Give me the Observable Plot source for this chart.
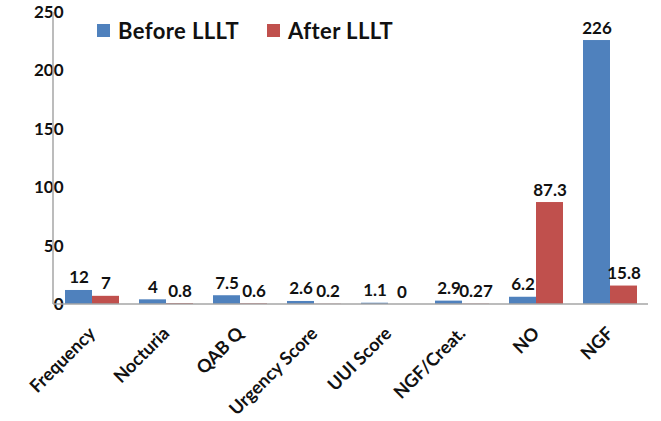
<!DOCTYPE html>
<html>
<head>
<meta charset="utf-8">
<script src="https://cdn.jsdelivr.net/npm/d3@7"></script>
<script src="https://cdn.jsdelivr.net/npm/@observablehq/plot@0.6"></script>
<style>
  html, body { margin: 0; padding: 0; background: #fff; }
  #wrap { position: relative; width: 661px; height: 421px; font-family: Lato, "Open Sans", sans-serif; }
  .legend { position: absolute; top: 17px; left: 97px; display: flex; align-items: center; font-weight: 700; font-size: 22px; letter-spacing: 0.4px; color: #111; }
  .legend .sw { width: 13px; height: 13px; display: inline-block; margin-right: 8px; }
  .legend .item { display: flex; align-items: center; margin-right: 28px; }
</style>
</head>
<body>
<div id="wrap">
  <div id="chart"></div>
  <div class="legend">
    <span class="item"><span class="sw" style="background:#4F81BD"></span>Before LLLT</span>
    <span class="item"><span class="sw" style="background:#C0504D"></span>After LLLT</span>
  </div>
</div>
<script>
const categories = ["Frequency", "Nocturia", "QAB Q", "Urgency Score", "UUI Score", "NGF/Creat.", "NO", "NGF"];
const before = [12, 4, 7.5, 2.6, 1.1, 2.9, 6.2, 226];
const after = [7, 0.8, 0.6, 0.2, 0, 0.27, 87.3, 15.8];
const beforeLabels = ["12", "4", "7.5", "2.6", "1.1", "2.9", "6.2", "226"];
const afterLabels = ["7", "0.8", "0.6", "0.2", "0", "0.27", "87.3", "15.8"];
const yTicks = [0, 50, 100, 150, 200, 250];

const data = [];
categories.forEach((c, i) => {
  data.push({category: c, series: "Before LLLT", value: before[i], label: beforeLabels[i]});
  data.push({category: c, series: "After LLLT", value: after[i], label: afterLabels[i]});
});

const plot = Plot.plot({
  width: 661,
  height: 421,
  marginLeft: 53,
  marginRight: 13,
  marginTop: 12,
  marginBottom: 117,
  style: {fontFamily: "Lato, 'Open Sans', sans-serif", background: "#fff"},
  fx: {domain: categories, paddingInner: 0.274, paddingOuter: 0.137, label: null, axis: null},
  x: {domain: ["Before LLLT", "After LLLT"], padding: 0, axis: null},
  y: {domain: [0, 250], ticks: yTicks, label: null, axis: null},
  color: {domain: ["Before LLLT", "After LLLT"], range: ["#4F81BD", "#C0504D"]},
  marks: [
    Plot.axisY({anchor: "left", ticks: yTicks, tickSize: 0, tickPadding: 10, dx: 8, fontSize: 17, fontWeight: 700, fill: "#111", label: null}),
    Plot.axisFx({anchor: "bottom", tickSize: 0, tickRotate: -45, tickPadding: 19, dy: 7, fontSize: 18, fontWeight: 700, fill: "#111", label: null}),
    Plot.barY(data, {fx: "category", x: "series", y: "value", fill: "series"}),
    Plot.text(data, {fx: "category", x: "series", y: "value", text: "label", lineAnchor: "bottom", dy: -7, fontSize: 17, fontWeight: 700, fill: "#111"})
  ]
});
document.getElementById("chart").appendChild(plot);
// axis lines placed from the plot's own scales
(function() {
  const y = plot.scale("y");
  const fx = plot.scale("fx");
  const x0 = fx.range[0], x1 = fx.range[1];
  const svg = d3.select(plot);
  svg.append("line")
    .attr("x1", x0).attr("x2", x0)
    .attr("y1", y.apply(250)).attr("y2", y.apply(0))
    .attr("stroke", "#a6a6a6").attr("stroke-width", 1.5);
  svg.append("line")
    .attr("x1", x0).attr("x2", x1)
    .attr("y1", y.apply(0)).attr("y2", y.apply(0))
    .attr("stroke", "#a6a6a6").attr("stroke-width", 1.5);
})();
</script>
</body>
</html>
